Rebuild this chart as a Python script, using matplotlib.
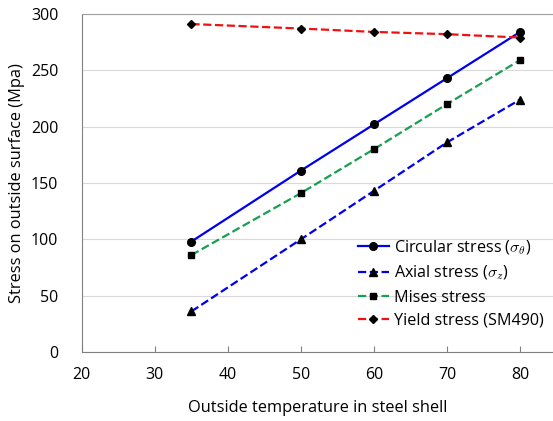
import numpy as np
import matplotlib
matplotlib.use('Agg')
import matplotlib.pyplot as plt

plt.rcParams['font.family'] = ['Open Sans', 'DejaVu Sans']
plt.rcParams['mathtext.fontset'] = 'cm'

temp = [35, 50, 60, 70, 80]
circular = [98, 161, 202, 243, 284]
axial = [36, 100, 143, 186, 224]
mises = [86, 141, 180, 220, 259]
yield_s = [291, 287, 284, 282, 279]

fig = plt.figure(figsize=(5.53, 4.21), dpi=100)
ax = fig.add_axes([0.148, 0.164, 0.852, 0.803])

ax.plot(temp, circular, '-', color='#0000f0', lw=1.6, marker='o', mfc='black', mec='black', ms=5.5,
        label=r'Circular stress ($\sigma_\theta$)')
ax.plot(temp, axial, '--', color='#0000f0', lw=1.6, marker='^', mfc='black', mec='black', ms=5.5,
        label=r'Axial stress ($\sigma_z$)')
ax.plot(temp, mises, '--', color='#16a050', lw=1.6, marker='s', mfc='black', mec='black', ms=4.5,
        label='Mises stress')
ax.plot(temp, yield_s, '--', color='#f01010', lw=1.6, marker='D', mfc='black', mec='black', ms=4,
        label='Yield stress (SM490)')

ax.set_xlim(20, 84.5)
ax.set_ylim(0, 300)
ax.set_xticks([20, 30, 40, 50, 60, 70, 80])
ax.set_yticks([0, 50, 100, 150, 200, 250, 300])
ax.yaxis.grid(True, color='#d9d9d9', lw=0.8)
ax.set_axisbelow(True)
ax.spines['right'].set_visible(False)
ax.spines['top'].set_color('#a0a0a0')
ax.spines['left'].set_color('#808080')
ax.spines['bottom'].set_color('#808080')
ax.tick_params(axis='x', direction='in', length=4, color='#808080', labelsize=11.5, pad=11)
ax.tick_params(axis='y', length=0, labelsize=11.5, pad=17)

ax.set_xlabel('Outside temperature in steel shell', fontsize=11.8, labelpad=12)
ax.set_ylabel('Stress on outside surface (Mpa)', fontsize=11.8, labelpad=4)

leg = ax.legend(loc='lower right', bbox_to_anchor=(1.0, 0.04), frameon=False, fontsize=11.6,
                handlelength=1.9, handletextpad=0.3, labelspacing=0.45, borderaxespad=0.2)

fig.savefig('out.png', dpi=100)
